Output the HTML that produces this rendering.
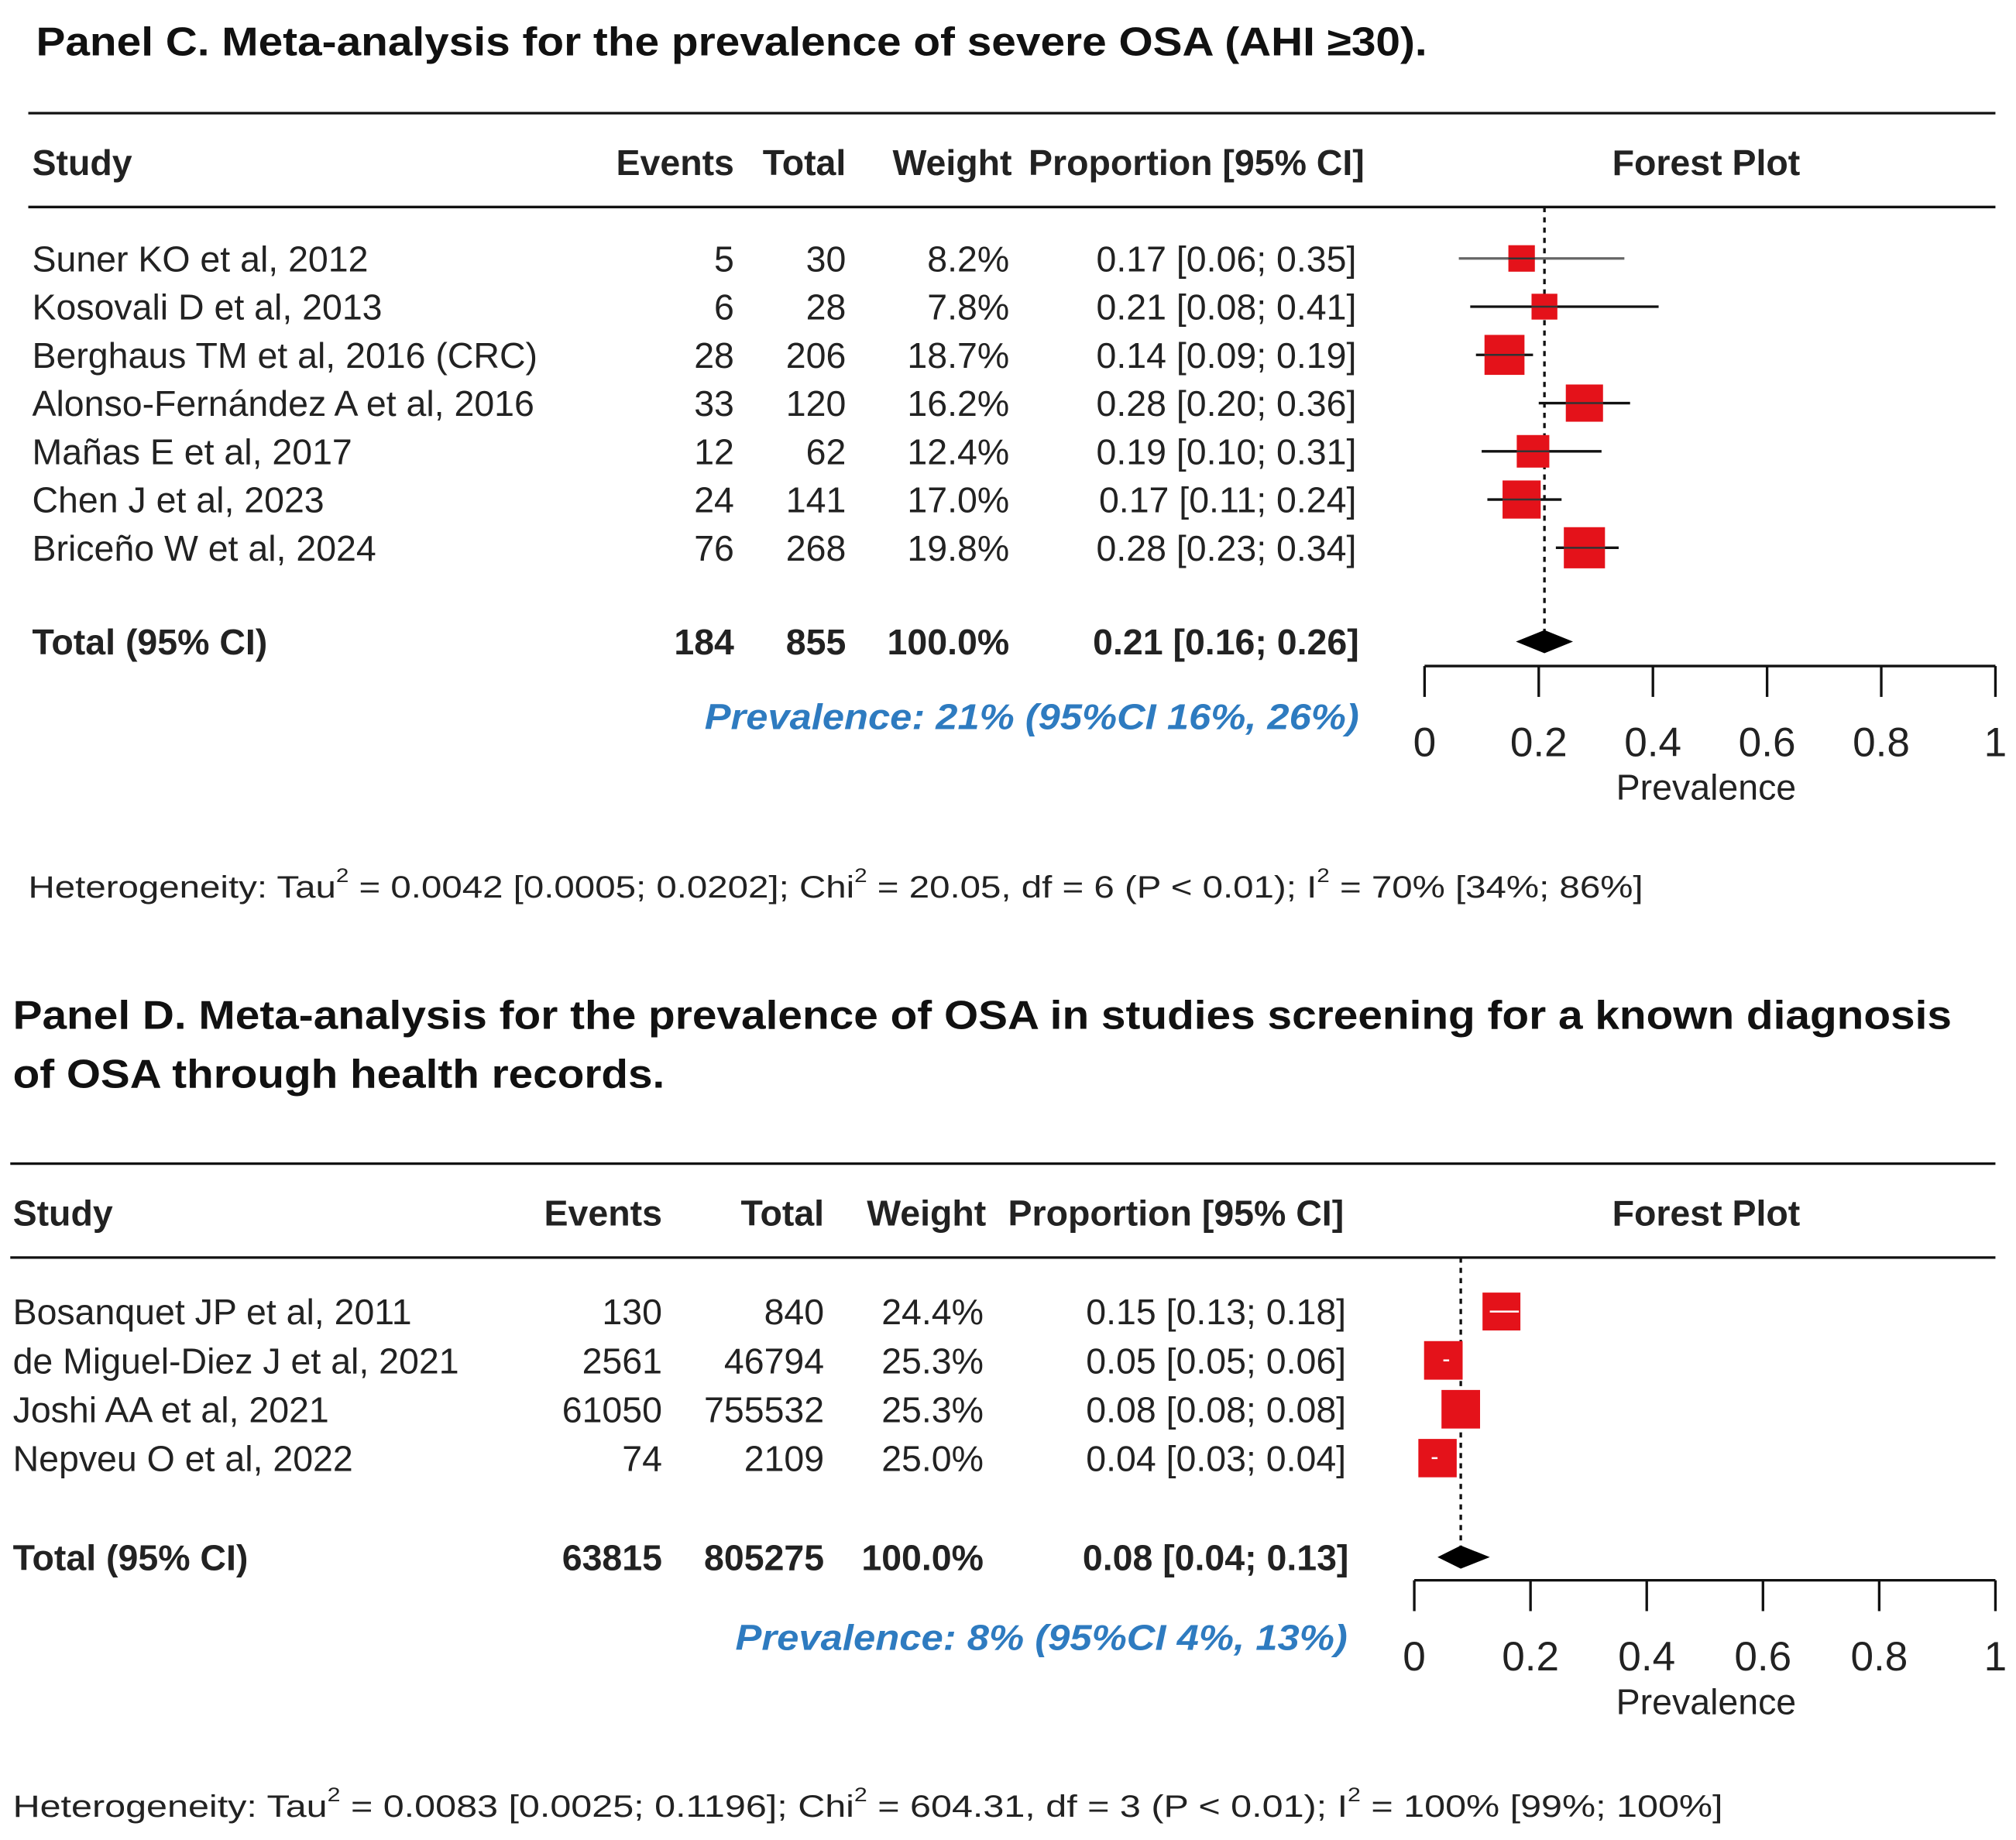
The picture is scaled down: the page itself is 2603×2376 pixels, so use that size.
<!DOCTYPE html>
<html><head><meta charset="utf-8">
<style>
html,body{margin:0;padding:0;background:#fff;}
svg{display:block;}
text{font-family:"Liberation Sans",Arial,sans-serif;fill:#222;}
.t{font-family:"Liberation Sans",sans-serif;font-weight:bold;font-size:31px;fill:#111;}
.h{font-weight:bold;font-size:28px;fill:#222;}
.r{font-size:28px;}
.tk{font-size:32px;}
.b{font-weight:bold;font-size:28px;}
.p{font-weight:bold;font-style:italic;font-size:28px;fill:#2e7bc0;}
.het{font-size:24px;}
</style></head>
<body>
<svg id="chart" width="2603" height="2376" viewBox="0 0 1568 1431" preserveAspectRatio="none" xmlns="http://www.w3.org/2000/svg">
<text class="t" x="28" y="43" textLength="1082" lengthAdjust="spacingAndGlyphs">Panel C. Meta-analysis for the prevalence of severe OSA (AHI ≥30).</text>
<text class="t" x="10" y="800" textLength="1508" lengthAdjust="spacingAndGlyphs">Panel D. Meta-analysis for the prevalence of OSA in studies screening for a known diagnosis</text>
<text class="t" x="10" y="846" textLength="507" lengthAdjust="spacingAndGlyphs">of OSA through health records.</text>
<g id="pc"></g>
<g id="pd"></g>
</svg>
<script>
// Panel C data
const cStudies=["Suner KO et al, 2012","Kosovali D et al, 2013","Berghaus TM et al, 2016 (CRC)","Alonso-Fernández A et al, 2016","Mañas E et al, 2017","Chen J et al, 2023","Briceño W et al, 2024"];
const cEvents=[5,6,28,33,12,24,76];
const cTotals=[30,28,206,120,62,141,268];
const cWeights=[8.2,7.8,18.7,16.2,12.4,17.0,19.8];
const cEst=[0.17,0.21,0.14,0.28,0.19,0.17,0.28];
const cLow=[0.06,0.08,0.09,0.20,0.10,0.11,0.23];
const cHigh=[0.35,0.41,0.19,0.36,0.31,0.24,0.34];
const cPooled=[0.21,0.16,0.26];
const cTotalRow=["184","855","100.0%"];
// Panel D data
const dStudies=["Bosanquet JP et al, 2011","de Miguel-Diez J et al, 2021","Joshi AA et al, 2021","Nepveu O et al, 2022"];
const dEvents=[130,2561,61050,74];
const dTotals=[840,46794,755532,2109];
const dWeights=[24.4,25.3,25.3,25.0];
const dEst=[0.15,0.05,0.08,0.04];
const dLow=[0.13,0.05,0.08,0.03];
const dHigh=[0.18,0.06,0.08,0.04];
const dPooled=[0.08,0.04,0.13];
const dTotalRow=["63815","805275","100.0%"];
const tickLabels=["0","0.2","0.4","0.6","0.8","1"];
const tickVals=[0,0.2,0.4,0.6,0.8,1];

const NS="http://www.w3.org/2000/svg";
function mk(p,tag,at,txt){const e=document.createElementNS(NS,tag);for(const k in at)e.setAttribute(k,at[k]);if(txt!==undefined)e.textContent=txt;p.appendChild(e);return e;}
const f2=v=>v.toFixed(2);

function panel(g,cfg,S,E,T,W,M,L,H,P,TR,tag){
  const x=v=>cfg.ax0+v*(cfg.ax1-cfg.ax0);
  let e;
  e=mk(g,'line',{x1:cfg.lx,x2:1552,y1:cfg.top,y2:cfg.top,stroke:'#111','stroke-width':2});
  
  
  e=mk(g,'line',{x1:cfg.lx,x2:1552,y1:cfg.top+73,y2:cfg.top+73,stroke:'#111','stroke-width':2});
  
  
  const hy=cfg.top+48;
  const hd=[["Study",cfg.sx,'start'],["Events",cfg.ce,'end'],["Total",cfg.ct,'end'],["Weight",cfg.cw+2,'end'],["Proportion [95% CI]",cfg.cp0,'start'],["Forest Plot",1327,'middle']];
  hd.forEach(h=>{e=mk(g,'text',{class:'h',x:h[1],y:hy,'text-anchor':h[2]},h[0]);
    
    });
  e=mk(g,'line',{x1:x(P[0]),x2:x(P[0]),y1:cfg.top+73,y2:cfg.totY,stroke:'#111','stroke-width':2,'stroke-dasharray':'4,4'});
  
  
  const maxW=Math.max(...W);
  S.forEach((s,i)=>{
    const y=cfg.y0+i*cfg.dy;
    e=mk(g,'text',{class:'r',x:cfg.sx,y:y+10},s);
    
    
    e=mk(g,'text',{class:'r',x:cfg.ce,y:y+10,'text-anchor':'end'},E[i]);
    
    
    e=mk(g,'text',{class:'r',x:cfg.ct,y:y+10,'text-anchor':'end'},T[i]);
    
    
    e=mk(g,'text',{class:'r',x:cfg.cw,y:y+10,'text-anchor':'end'},W[i].toFixed(1)+'%');
    
    
    e=mk(g,'text',{class:'r',x:cfg.cp,y:y+10,'text-anchor':'end'},f2(M[i])+' ['+f2(L[i])+'; '+f2(H[i])+']');
    
    
    const sz=cfg.k*Math.sqrt(W[i]/maxW);
    e=mk(g,'line',{x1:x(L[i]),x2:x(H[i]),y1:y,y2:y,stroke:i==0&&tag=='c'?'#666':'#111','stroke-width':2});
    
    
    e=mk(g,'rect',{x:x(M[i])-sz/2,y:y-sz/2,width:sz,height:sz,fill:'#e4121a'});
    
    
    e=mk(g,'line',{x1:Math.max(x(L[i]),x(M[i])-sz/2),x2:Math.min(x(H[i]),x(M[i])+sz/2),y1:y,y2:y,stroke:tag=='d'?'#fff':'#333','stroke-width':1.5});
    
    
  });
  const ty=cfg.totY;
  e=mk(g,'text',{class:'b',x:cfg.sx,y:ty+10},'Total (95% CI)');
  
  
  [cfg.ce,cfg.ct,cfg.cw].forEach((cx,j)=>{e=mk(g,'text',{class:'b',x:cx,y:ty+10,'text-anchor':'end'},TR[j]);
    
    });
  e=mk(g,'text',{class:'b',x:cfg.cp+2,y:ty+10,'text-anchor':'end'},f2(P[0])+' ['+f2(P[1])+'; '+f2(P[2])+']');
  
  
  e=mk(g,'polygon',{points:`${x(P[1])},${ty} ${x(P[0])},${ty-9} ${x(P[2])},${ty} ${x(P[0])},${ty+9}`,fill:'#000'});
  
  
  e=mk(g,'text',{class:'p',x:cfg.prevX,y:cfg.prevY,textLength:cfg.prevL,lengthAdjust:'spacingAndGlyphs'},`Prevalence: ${Math.round(P[0]*100)}% (95%CI ${Math.round(P[1]*100)}%, ${Math.round(P[2]*100)}%)`);
  
  
  e=mk(g,'line',{x1:x(0),x2:x(1),y1:cfg.axY,y2:cfg.axY,stroke:'#111','stroke-width':2});
  
  
  tickVals.forEach((v,j)=>{
    e=mk(g,'line',{x1:x(v),x2:x(v),y1:cfg.axY,y2:cfg.axY+24,stroke:'#111','stroke-width':2});
    
    
    e=mk(g,'text',{class:'tk',x:x(v),y:cfg.axY+70,'text-anchor':'middle'},tickLabels[j]);
    
    
  });
  e=mk(g,'text',{class:'r',x:1327,y:cfg.axY+104,'text-anchor':'middle'},'Prevalence');
  
  
}
panel(document.getElementById('pc'),{lx:22,top:88,sx:25,ce:571,ct:658,cw:785,cp:1055,cp0:800,ax0:1108,ax1:1552,y0:201,dy:37.5,totY:499,prevX:548,prevL:509,prevY:567,axY:518,k:32},
  cStudies,cEvents,cTotals,cWeights,cEst,cLow,cHigh,cPooled,cTotalRow,'c');
panel(document.getElementById('pd'),{lx:8,top:905,sx:10,ce:515,ct:641,cw:765,cp:1047,cp0:784,ax0:1100,ax1:1552,y0:1020,dy:38,totY:1211,prevX:572,prevL:476,prevY:1283,axY:1229,k:30},
  dStudies,dEvents,dTotals,dWeights,dEst,dLow,dHigh,dPooled,dTotalRow,'d');

const svg=document.getElementById('chart');
let h1=mk(svg,'text',{class:'het',x:22,y:698,textLength:1256,lengthAdjust:'spacingAndGlyphs'});
h1.innerHTML='Heterogeneity: Tau<tspan dy="-12" font-size="15">2</tspan><tspan dy="12"> = 0.0042 [0.0005; 0.0202]; Chi</tspan><tspan dy="-12" font-size="15">2</tspan><tspan dy="12"> = 20.05, df = 6 (P &lt; 0.01); I</tspan><tspan dy="-12" font-size="15">2</tspan><tspan dy="12"> = 70% [34%; 86%]</tspan>';


let h2=mk(svg,'text',{class:'het',x:10,y:1413,textLength:1330,lengthAdjust:'spacingAndGlyphs'});
h2.innerHTML='Heterogeneity: Tau<tspan dy="-12" font-size="15">2</tspan><tspan dy="12"> = 0.0083 [0.0025; 0.1196]; Chi</tspan><tspan dy="-12" font-size="15">2</tspan><tspan dy="12"> = 604.31, df = 3 (P &lt; 0.01); I</tspan><tspan dy="-12" font-size="15">2</tspan><tspan dy="12"> = 100% [99%; 100%]</tspan>';


</script>
</body></html>
